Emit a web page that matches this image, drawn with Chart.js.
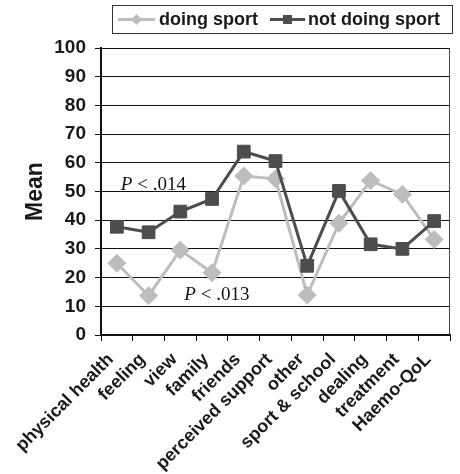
<!DOCTYPE html>
<html>
<head>
<meta charset="utf-8">
<script src="https://cdn.jsdelivr.net/npm/chart.js@4/dist/chart.umd.min.js"></script>
<style>
  html, body { margin: 0; padding: 0; background: #fff; }
  #wrap { width: 460px; height: 474px; position: relative; }
</style>
</head>
<body>
<div id="wrap"><canvas id="c" width="460" height="474"></canvas></div>
<script>
// Domain categories (HRQoL dimensions)
const categories = ['physical health', 'feeling', 'view', 'family', 'friends',
  'perceived support', 'other', 'sport & school', 'dealing', 'treatment', 'Haemo-QoL'];

// Mean scores per group
const doingSport    = [25.0, 13.7, 29.6, 21.7, 55.4, 54.4, 13.9, 38.9, 53.8, 49.0, 33.3];
const notDoingSport = [37.7, 35.8, 43.0, 47.4, 63.9, 60.6, 24.1, 50.2, 31.6, 30.0, 39.7];

const seriesNames = ['doing sport', 'not doing sport'];
const yTicks = [0, 10, 20, 30, 40, 50, 60, 70, 80, 90, 100];

// Significance notes: text, anchor category index, anchor value
const pNotes = [
  { text: '.014', cat: 0, value: 50.5 },
  { text: '.013', cat: 2, value: 12.2 }
];

const LIGHT = '#bdbdbd';
const DARK = '#4d4d4d';
const SANS = "'Liberation Sans', Arial, Helvetica, sans-serif";
const SERIF = "'Liberation Serif', 'Times New Roman', serif";

// Boxed legend with line + marker samples
const boxLegend = {
  id: 'boxLegend',
  afterDraw(chart) {
    const ctx = chart.ctx;
    const ds = chart.data.datasets;
    ctx.save();
    ctx.strokeStyle = '#333';
    ctx.lineWidth = 1;
    ctx.strokeRect(112.5, 5.5, 340, 28);
    const cy = 19.5;
    const items = [
      { x0: 118, x1: 155, tx: 159, ds: ds[0] },
      { x0: 270, x1: 305, tx: 308, ds: ds[1] }
    ];
    items.forEach(it => {
      const c = it.ds.borderColor;
      ctx.strokeStyle = c;
      ctx.lineWidth = 3;
      ctx.beginPath();
      ctx.moveTo(it.x0, cy);
      ctx.lineTo(it.x1, cy);
      ctx.stroke();
      const mx = (it.x0 + it.x1) / 2;
      ctx.fillStyle = c;
      ctx.beginPath();
      if (it.ds.pointStyle === 'rectRot') {
        const r = 5.5;
        ctx.moveTo(mx, cy - r); ctx.lineTo(mx + r, cy); ctx.lineTo(mx, cy + r); ctx.lineTo(mx - r, cy);
        ctx.closePath();
      } else {
        ctx.rect(mx - 4.5, cy - 4.5, 9, 9);
      }
      ctx.fill();
      ctx.fillStyle = '#1a1a1a';
      ctx.font = 'bold 18px ' + SANS;
      ctx.textAlign = 'left';
      ctx.textBaseline = 'middle';
      ctx.fillText(it.ds.label, it.tx, cy + 1);
    });
    ctx.restore();
  }
};

// "P < ..." notes placed on the data scales
const pLabels = {
  id: 'pLabels',
  afterDatasetsDraw(chart) {
    const ctx = chart.ctx;
    const xs = chart.scales.x, ys = chart.scales.y;
    ctx.save();
    ctx.fillStyle = '#111';
    ctx.textBaseline = 'alphabetic';
    ctx.textAlign = 'left';
    pNotes.forEach(n => {
      let x = xs.getPixelForValue(n.cat) + 4;
      const y = ys.getPixelForValue(n.value);
      ctx.font = 'italic 19px ' + SERIF;
      ctx.fillText('P', x, y);
      x += ctx.measureText('P').width;
      ctx.font = '19px ' + SERIF;
      ctx.fillText(' < ' + n.text, x, y);
    });
    ctx.restore();
  }
};

// Right frame edge of the plot area
const rightEdge = {
  id: 'rightEdge',
  afterDraw(chart) {
    const a = chart.chartArea;
    const ctx = chart.ctx;
    ctx.save();
    ctx.strokeStyle = '#444';
    ctx.lineWidth = 1;
    ctx.beginPath();
    ctx.moveTo(a.right - 0.5, a.top);
    ctx.lineTo(a.right - 0.5, a.bottom);
    ctx.stroke();
    ctx.restore();
  }
};

new Chart(document.getElementById('c'), {
  type: 'line',
  data: {
    labels: categories,
    datasets: [
      {
        label: seriesNames[0], data: doingSport,
        borderColor: LIGHT, backgroundColor: LIGHT,
        pointStyle: 'rectRot', pointRadius: 9, pointBorderWidth: 1,
        pointBorderColor: LIGHT, borderWidth: 3, tension: 0, order: 1
      },
      {
        label: seriesNames[1], data: notDoingSport,
        borderColor: DARK, backgroundColor: DARK,
        pointStyle: 'rect', pointRadius: 9, pointBorderWidth: 1,
        pointBorderColor: DARK, borderWidth: 3, tension: 0, order: 0
      }
    ]
  },
  options: {
    responsive: false,
    animation: false,
    layout: { padding: { top: 48, right: 1, left: 0, bottom: 0 } },
    plugins: { legend: { display: false }, tooltip: { enabled: false } },
    scales: {
      x: {
        type: 'category',
        offset: true,
        grid: { offset: true, drawOnChartArea: false, drawTicks: true, tickLength: 6, color: '#111', lineWidth: 1 },
        border: { display: true, color: '#111', width: 2 },
        ticks: {
          autoSkip: false, maxRotation: 45, minRotation: 45, padding: 8, labelOffset: -6,
          color: '#1a1a1a', font: { family: SANS, size: 18, weight: 'bold' }
        },
        afterFit(scale) { scale.height = 139; }
      },
      y: {
        min: 0, max: 100,
        afterBuildTicks(scale) { scale.ticks = yTicks.map(v => ({ value: v })); },
        grid: { color: '#111', lineWidth: 1, drawTicks: true, tickLength: 6 },
        border: { display: true, color: '#111', width: 2 },
        ticks: { padding: 9, color: '#1a1a1a', font: { family: SANS, size: 19, weight: 'bold' } },
        title: {
          display: true, text: 'Mean', color: '#1a1a1a',
          font: { family: SANS, size: 23, weight: 'bold' },
          padding: { top: 22, bottom: 0 }
        },
        afterFit(scale) { scale.width = 101; }
      }
    }
  },
  plugins: [boxLegend, pLabels, rightEdge]
});
</script>
</body>
</html>
